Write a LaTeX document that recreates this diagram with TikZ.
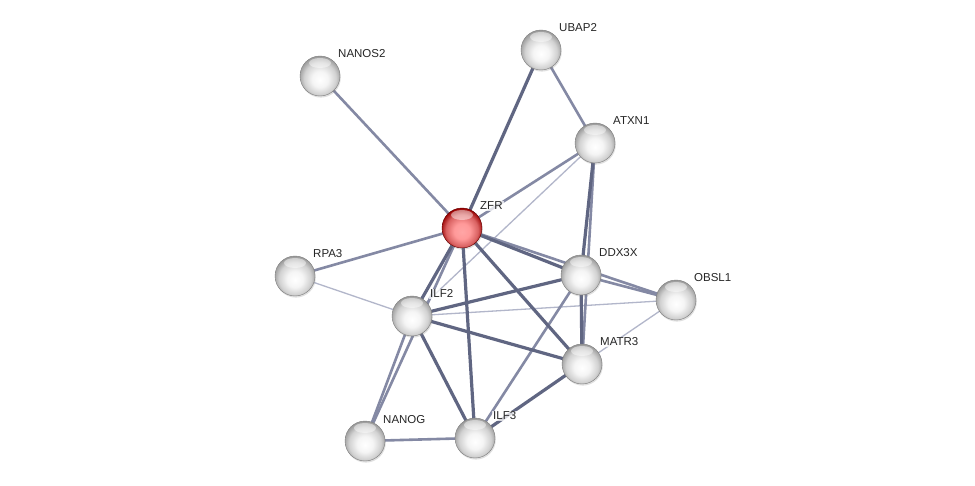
\documentclass[tikz,border=0pt]{standalone}
\usepackage{fontspec}
\setmainfont{Liberation Sans}
\usetikzlibrary{shadows}
\pgfdeclarelayer{bg}
\pgfdeclarelayer{edges}
\pgfsetlayers{bg,edges,main}
\pgfdeclareradialshading{ballgray}{\pgfpoint{0bp}{-5bp}}{color(0bp)=(white); color(10bp)=(white!96!black); color(20bp)=(white!82!black); color(27bp)=(white!60!black); color(50bp)=(white!60!black)}
\pgfdeclareradialshading{ballred}{\pgfpoint{0bp}{-5bp}}{color(0bp)=(red!35!white); color(10bp)=(red!40!white); color(20bp)=(red!55!white!85!black); color(27bp)=(red!60!black); color(50bp)=(red!60!black)}
\definecolor{edark}{RGB}{96,102,130}
\definecolor{emed}{RGB}{132,137,164}
\definecolor{elight}{RGB}{178,182,202}
\tikzset{
  ball/.style={circle, minimum size=40pt, inner sep=0pt, shading=ballgray,
    draw=white!50!black, line width=0.4pt,
    drop shadow={opacity=0.25, shadow xshift=0.8pt, shadow yshift=-1.6pt},
    path picture={\fill[white,opacity=0.45] ([yshift=-7pt]path picture bounding box.north) ellipse [x radius=11pt, y radius=5pt];}},
  redball/.style={ball, shading=ballred, draw=red!40!black},
  lbl/.style={anchor=base west, inner sep=1pt, fill=white, fill opacity=0.75, text opacity=1, font=\fontsize{11.5}{13}\selectfont, text=black!85},
  ethick/.style={draw=edark, line width=3.2pt},
  emid/.style={draw=emed, line width=2.6pt},
  ethin/.style={draw=elight, line width=1.3pt},
}
\begin{document}
\begin{tikzpicture}[x=1pt,y=-1pt]
\begin{pgfonlayer}{bg}
\useasboundingbox[fill=white] (0,0) rectangle (975,486);
\end{pgfonlayer}
% nodes
\node[ball] (nanos2) at (320,76) {};
\node[ball] (ubap2) at (541,50) {};
\node[ball] (atxn1) at (595,143) {};
\node[redball] (zfr) at (462,228) {};
\node[ball] (rpa3) at (295,276) {};
\node[ball] (ddx3x) at (581,275) {};
\node[ball] (obsl1) at (676,300) {};
\node[ball] (ilf2) at (412,316) {};
\node[ball] (matr3) at (582,364) {};
\node[ball] (nanog) at (365,441) {};
\node[ball] (ilf3) at (475,438) {};
% labels
\node[lbl] (nanos2-l) at ([xshift=17pt,yshift=18pt]nanos2.center) {NANOS2};
\node[lbl] (ubap2-l) at ([xshift=17pt,yshift=18pt]ubap2.center) {UBAP2};
\node[lbl] (atxn1-l) at ([xshift=17pt,yshift=18pt]atxn1.center) {ATXN1};
\node[lbl] (zfr-l) at ([xshift=17pt,yshift=18pt]zfr.center) {ZFR};
\node[lbl] (rpa3-l) at ([xshift=17pt,yshift=18pt]rpa3.center) {RPA3};
\node[lbl] (ddx3x-l) at ([xshift=17pt,yshift=18pt]ddx3x.center) {DDX3X};
\node[lbl] (obsl1-l) at ([xshift=17pt,yshift=18pt]obsl1.center) {OBSL1};
\node[lbl] (ilf2-l) at ([xshift=17pt,yshift=18pt]ilf2.center) {ILF2};
\node[lbl] (matr3-l) at ([xshift=17pt,yshift=18pt]matr3.center) {MATR3};
\node[lbl] (nanog-l) at ([xshift=17pt,yshift=18pt]nanog.center) {NANOG};
\node[lbl] (ilf3-l) at ([xshift=17pt,yshift=18pt]ilf3.center) {ILF3};
% edges
\begin{pgfonlayer}{edges}
\draw[ethin] (atxn1.center) -- (ilf2.center);
\draw[ethin] (rpa3.center) -- (ilf2.center);
\draw[ethin] (ilf2.center) -- (obsl1.center);
\draw[ethin] (matr3.center) -- (obsl1.center);
\draw[emid] (nanos2.center) -- (zfr.center);
\draw[emid] (ubap2.center) -- (atxn1.center);
\draw[emid] (atxn1.center) -- (zfr.center);
\draw[emid] (zfr.center) -- (rpa3.center);
\draw[emid] (ilf2.center) -- (nanog.center);
\draw[emid] (zfr.center) -- (nanog.center);
\draw[emid] (ilf3.center) -- (nanog.center);
\draw[emid] (ilf3.center) -- (ddx3x.center);
\draw[emid] (ddx3x.center) -- (obsl1.center);
\draw[emid] (zfr.center) -- (obsl1.center);
\draw[emid] (atxn1.center) -- (matr3.center);
\draw[ethick] (zfr.center) -- (ubap2.center);
\draw[ethick] (zfr.center) -- (ilf2.center);
\draw[ethick] (zfr.center) -- (ddx3x.center);
\draw[ethick] (zfr.center) -- (matr3.center);
\draw[ethick] (zfr.center) -- (ilf3.center);
\draw[ethick] (ilf2.center) -- (ddx3x.center);
\draw[ethick] (ilf2.center) -- (matr3.center);
\draw[ethick] (ilf2.center) -- (ilf3.center);
\draw[ethick] (ilf3.center) -- (matr3.center);
\draw[ethick] (ddx3x.center) -- (matr3.center);
\draw[ethick] (atxn1.center) -- (ddx3x.center);
\end{pgfonlayer}
\end{tikzpicture}
\end{document}
